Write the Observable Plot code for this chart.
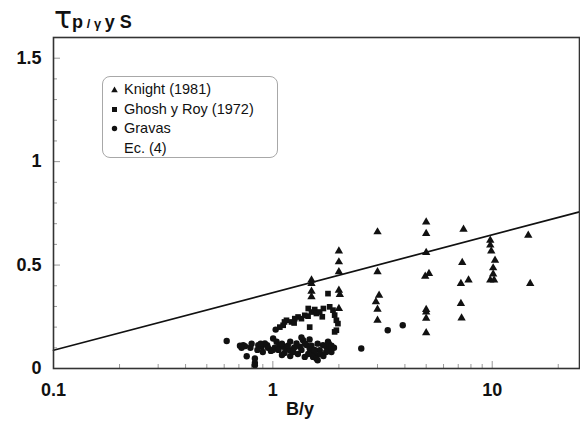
<!DOCTYPE html>
<html><head><meta charset="utf-8">
<script src="https://cdn.jsdelivr.net/npm/d3@7"></script>
<script src="https://cdn.jsdelivr.net/npm/@observablehq/plot@0.6"></script>
<style>
body{margin:0;background:#fff;font-family:"Liberation Sans",Arial,sans-serif}
#wrap{position:relative;width:580px;height:429px;overflow:hidden}
#title{position:absolute;left:54px;top:0px;font-weight:bold;color:#111;white-space:nowrap}
#xlab{position:absolute;left:0;width:600px;text-align:center;top:399px;font-weight:bold;font-size:18px;color:#111}
#legend{position:absolute;left:102px;top:76px;width:174px;height:80px;border:1.5px solid #a8a8a8;border-radius:8px;background:#fff}
.row{position:absolute;left:8px;font-size:14.5px;color:#111;white-space:nowrap;height:18px;line-height:18px}
.row svg{position:absolute;left:0;top:6px}
.row span{position:absolute;left:13px}
</style></head><body><div id="wrap"></div>
<script>
// ---- data ----
const knightX = [1.5,1.5,1.5,1.5, 2,2,2,2,2.02,2, 3,3,3.05,2.95,3,3, 5,5,5,4.95,5.15,5,5,5,5, 7.4,7.3,7.2,7.8,7.2,7.25, 9.8,9.8,9.9,10.3,10.1,10.1,9.8,10.2, 14.6,14.9];
const knightY = [0.427,0.41,0.373,0.346, 0.568,0.515,0.467,0.378,0.357,0.29, 0.66,0.467,0.354,0.322,0.286,0.233, 0.708,0.652,0.56,0.446,0.459,0.285,0.273,0.242,0.172, 0.673,0.512,0.41,0.427,0.314,0.244, 0.62,0.596,0.568,0.523,0.486,0.456,0.427,0.427, 0.644,0.41];

const ghoshX = [1.114,1.154,1.216,1.259,1.303,1.35,1.398,1.447,1.5,1.552,1.58,1.635,1.784,1.816,1.88,1.913,1.948,1.98,1.948,1.913,1.076,1.472,1.7,1.68,1.25,1.45,1.13];
const ghoshY = [0.209,0.233,0.225,0.241,0.249,0.241,0.257,0.253,0.273,0.285,0.266,0.273,0.362,0.298,0.282,0.258,0.233,0.217,0.185,0.177,0.2,0.2,0.29,0.25,0.22,0.29,0.225];

const gravasX = [0.616,0.708,0.733,0.746,0.76,0.828,0.828,0.828,0.858,0.889,0.92,0.942,1.003,1.04,1.076,1.114,1.154,1.195,1.237,1.282,1.327,1.373,1.423,1.472,1.525,1.58,1.635,1.693,1.754,1.784,1.816,1.849,1.398,1.525,1.58,2.53,3.34,3.91,1.03,
  0.72,0.79,0.8,0.85,0.9,0.95,0.98,1.02,1.06,1.1,1.13,1.17,1.2,1.25,1.3,1.35,1.4,1.45,1.5,1.55,1.6,1.65,1.7,1.75,1.8,1.85,1.9,1.35,1.2,1.1,0.88,1.6,1.47,1.0];
const gravasY = [0.133,0.11,0.113,0.108,0.059,0.048,0.027,0.016,0.113,0.105,0.121,0.113,0.145,0.129,0.113,0.105,0.097,0.088,0.08,0.121,0.105,0.137,0.113,0.097,0.08,0.064,0.088,0.113,0.105,0.129,0.097,0.08,0.056,0.056,0.048,0.097,0.185,0.209,0.188,
  0.1,0.1,0.12,0.09,0.08,0.1,0.085,0.1,0.09,0.12,0.075,0.11,0.13,0.1,0.07,0.09,0.12,0.07,0.11,0.09,0.12,0.07,0.06,0.08,0.12,0.11,0.1,0.15,0.06,0.065,0.12,0.04,0.14,0.09];

const eqX = [0.1, 25];
const eqY = [0.088, 0.757];

const xTickLabels = [0.1, 1, 10];
const yTickLabels = [0, 0.5, 1, 1.5];
const xMinor = [0.2,0.3,0.4,0.5,0.6,0.7,0.8,0.9,2,3,4,5,6,7,8,9,20];
const xMajor = [1,10];
const yMinor = [0.1,0.2,0.3,0.4,0.6,0.7,0.8,0.9,1.1,1.2,1.3,1.4,1.6];
const yMajor = [0.5,1,1.5];

const knight = knightX.map((x,i)=>({x, y:knightY[i]}));
const ghosh = ghoshX.map((x,i)=>({x, y:ghoshY[i]}));
const gravas = gravasX.map((x,i)=>({x, y:gravasY[i]}));
const eq = eqX.map((x,i)=>({x, y:eqY[i]}));

const W=580,H=429, mL=53, mR=1, mT=37, mB=61;
const pxPerDecade = (W-mL-mR)/Math.log10(25/0.1);
const pxPerUnit = (H-mT-mB)/1.6;
const xLen = L => 0.1*Math.pow(10, L/pxPerDecade);

const chart = Plot.plot({
  width: W, height: H,
  marginLeft: mL, marginRight: mR, marginTop: mT, marginBottom: mB,
  style: {fontFamily: '"Liberation Sans", Arial, sans-serif', background: "#fff", color: "#111"},
  x: {type: "log", domain: [0.1, 25]},
  y: {domain: [0, 1.6]},
  marks: [
    Plot.ruleY(yMinor, {y: d=>d, x1: 0.1, x2: xLen(4), stroke: "#999", strokeWidth: 1}),
    Plot.ruleY(yMajor, {y: d=>d, x1: 0.1, x2: xLen(7), stroke: "#999", strokeWidth: 1}),
    Plot.ruleX(xMinor, {x: d=>d, y1: 0, y2: 4/pxPerUnit, stroke: "#999", strokeWidth: 1}),
    Plot.ruleX(xMajor, {x: d=>d, y1: 0, y2: 7/pxPerUnit, stroke: "#999", strokeWidth: 1}),
    Plot.axisY({ticks: yTickLabels, tickSize: 0, tickPadding: 12, fontSize: 18, fontWeight: "bold", tickFormat: d=>String(d), label: null}),
    Plot.axisX({ticks: xTickLabels, tickSize: 0, tickPadding: 15, fontSize: 18, fontWeight: "bold", tickFormat: d=>String(d), label: null}),
    Plot.line(eq, {x: "x", y: "y", stroke: "#111", strokeWidth: 1.7}),
    Plot.dot(gravas, {x: "x", y: "y", symbol: "circle", r: 3.2, fill: "#111", stroke: "none"}),
    Plot.dot(ghosh, {x: "x", y: "y", symbol: "square", r: 3.2, fill: "#111", stroke: "none"}),
    Plot.dot(knight, {x: "x", y: "y", symbol: "triangle", r: 3.1, fill: "#111", stroke: "none"}),
    Plot.frame({stroke: "#333", strokeWidth: 1.6})
  ]
});

const wrap = document.getElementById("wrap");
wrap.appendChild(chart);

const title = document.createElement("div");
title.id = "title";
title.innerHTML = '<span style="font-size:30px;font-weight:normal;font-family:\'DejaVu Sans\',sans-serif">τ</span><span style="font-size:18px">p</span><span style="font-size:13px"> / γ </span><span style="font-size:18px">y S</span>';
wrap.appendChild(title);

const xlab = document.createElement("div");
xlab.id = "xlab";
xlab.textContent = "B/y";
wrap.appendChild(xlab);

const legendItems = [
  {label: "Knight (1981)", sym: "tri"},
  {label: "Ghosh y Roy (1972)", sym: "sq"},
  {label: "Gravas", sym: "circ"},
  {label: "Ec. (4)", sym: null}
];
const legend = document.createElement("div");
legend.id = "legend";
legendItems.forEach((it,i)=>{
  const row = document.createElement("div");
  row.className = "row";
  row.style.top = (3 + i*19.5) + "px";
  let svg = "";
  if (it.sym === "tri") svg = '<svg width="7" height="7"><path d="M3.5,0.5L6.8,6.3L0.2,6.3Z" fill="#111"/></svg>';
  if (it.sym === "sq") svg = '<svg width="7" height="7"><rect x="1" y="1" width="5" height="5" fill="#111"/></svg>';
  if (it.sym === "circ") svg = '<svg width="7" height="7"><circle cx="3.5" cy="3.5" r="2.7" fill="#111"/></svg>';
  row.innerHTML = svg + '<span>' + it.label + '</span>';
  legend.appendChild(row);
});
wrap.appendChild(legend);
</script></body></html>
